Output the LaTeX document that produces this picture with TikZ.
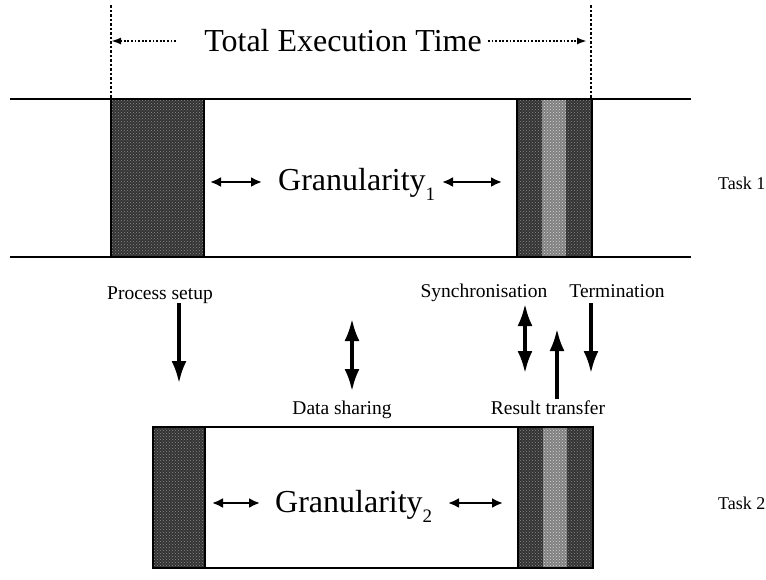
\documentclass[tikz,border=0pt]{standalone}
\usepackage{fontspec}
\setmainfont{Liberation Serif}
\usetikzlibrary{arrows.meta,patterns}
\begin{document}
\begin{tikzpicture}[x=1pt,y=-1pt,
  rule/.style={line width=2pt},
  darkblk/.style={fill=black!80, postaction={pattern=crosshatch dots, pattern color=black!45}},
  lightblk/.style={fill=black!50, postaction={pattern=crosshatch dots, pattern color=white!85!black}},
  bigarrow/.style={line width=3.2pt, -{Latex[length=22pt,width=15pt]}},
  bigboth/.style={line width=3.2pt, {Latex[length=22pt,width=15pt]}-{Latex[length=22pt,width=15pt]}},
  granarrow/.style={line width=2.3pt, {Latex[length=11pt,width=10pt]}-{Latex[length=11pt,width=10pt]}},
  spanarrow/.style={line width=1.8pt, dash pattern=on 1.8pt off 1.8pt, -{Latex[length=10pt,width=7pt]}},
  guide/.style={line width=1.6pt, dash pattern=on 2.5pt off 2pt},
  lbl/.style={font=\fontsize{19.5}{22}\selectfont, inner sep=0pt},
  tasklbl/.style={font=\fontsize{18}{20}\selectfont, inner sep=0pt},
  big/.style={font=\fontsize{32}{36}\selectfont, inner sep=0pt}]
\useasboundingbox (0,0) rectangle (766,579);

% ---- Task 1 ----
\fill[darkblk] (111,98.7) rectangle (204,256.7);
\fill[darkblk] (517,98.7) rectangle (542,256.7);
\fill[lightblk] (542,98.7) rectangle (566,256.7);
\fill[darkblk] (566,98.7) rectangle (592,256.7);
\draw[rule] (10,98.7) -- (691,98.7);
\draw[rule] (10,256.7) -- (691,256.7);
\draw[line width=1.2pt] (111,98.7) -- (111,256.7) (204,98.7) -- (204,256.7)
  (517,98.7) -- (517,256.7) (592,98.7) -- (592,256.7);

% ---- span of total execution time ----
\coordinate (gl) at (111,5);
\coordinate (gr) at (591,5);
\draw[guide] (gl) -- (111,98);
\draw[guide] (gr) -- (591,98);
\node[big, anchor=base] (total) at (343,51) {Total Execution Time};
\coordinate (tl) at (111,41);
\coordinate (tr) at (587,41);
\draw[spanarrow] (176,41) -- (tl);
\draw[spanarrow] (488,41) -- (tr);

% ---- Granularity 1 ----
\node[big, anchor=base west] (g1) at (278,190)
  {Granularity\raisebox{-0.32em}{\fontsize{19}{20}\selectfont 1}};
\coordinate (g1a) at (210,182); \coordinate (g1b) at (262,182);
\coordinate (g1c) at (442,182); \coordinate (g1d) at (502,182);
\draw[granarrow] (g1a) -- (g1b);
\draw[granarrow] (g1c) -- (g1d);
\node[tasklbl, anchor=base west] (t1) at (718,189) {Task 1};

% ---- events between the tasks ----
\node[lbl, anchor=base] (ps) at (160,299) {Process setup};
\node[lbl, anchor=base] (sy) at (484,297) {Synchronisation};
\node[lbl, anchor=base] (te) at (617,297) {Termination};
\node[lbl, anchor=base] (ds) at (342,414) {Data sharing};
\node[lbl, anchor=base] (rt) at (548,414) {Result transfer};

\draw[bigarrow] (179,303) -- (179,383);
\draw[bigboth] (352,319) -- (352,391);
\draw[bigboth] (525,304) -- (525,373);
\draw[bigarrow] (557,399) -- (557,329);
\draw[bigarrow] (591,303) -- (591,373);

% ---- Task 2 ----
\fill[darkblk] (153,427) rectangle (205,568);
\fill[darkblk] (518,427) rectangle (543,568);
\fill[lightblk] (543,427) rectangle (567,568);
\fill[darkblk] (567,427) rectangle (593,568);
\draw[rule] (153,427) rectangle (593,568);
\draw[line width=1.2pt] (205,427) -- (205,568) (518,427) -- (518,568);

\node[big, anchor=base west] (g2) at (275,512)
  {Granularity\raisebox{-0.32em}{\fontsize{19}{20}\selectfont 2}};
\coordinate (g2a) at (212,503); \coordinate (g2b) at (260,503);
\coordinate (g2c) at (448,503); \coordinate (g2d) at (503,503);
\draw[granarrow] (g2a) -- (g2b);
\draw[granarrow] (g2c) -- (g2d);
\node[tasklbl, anchor=base west] (t2) at (718,509) {Task 2};
\end{tikzpicture}
\end{document}
